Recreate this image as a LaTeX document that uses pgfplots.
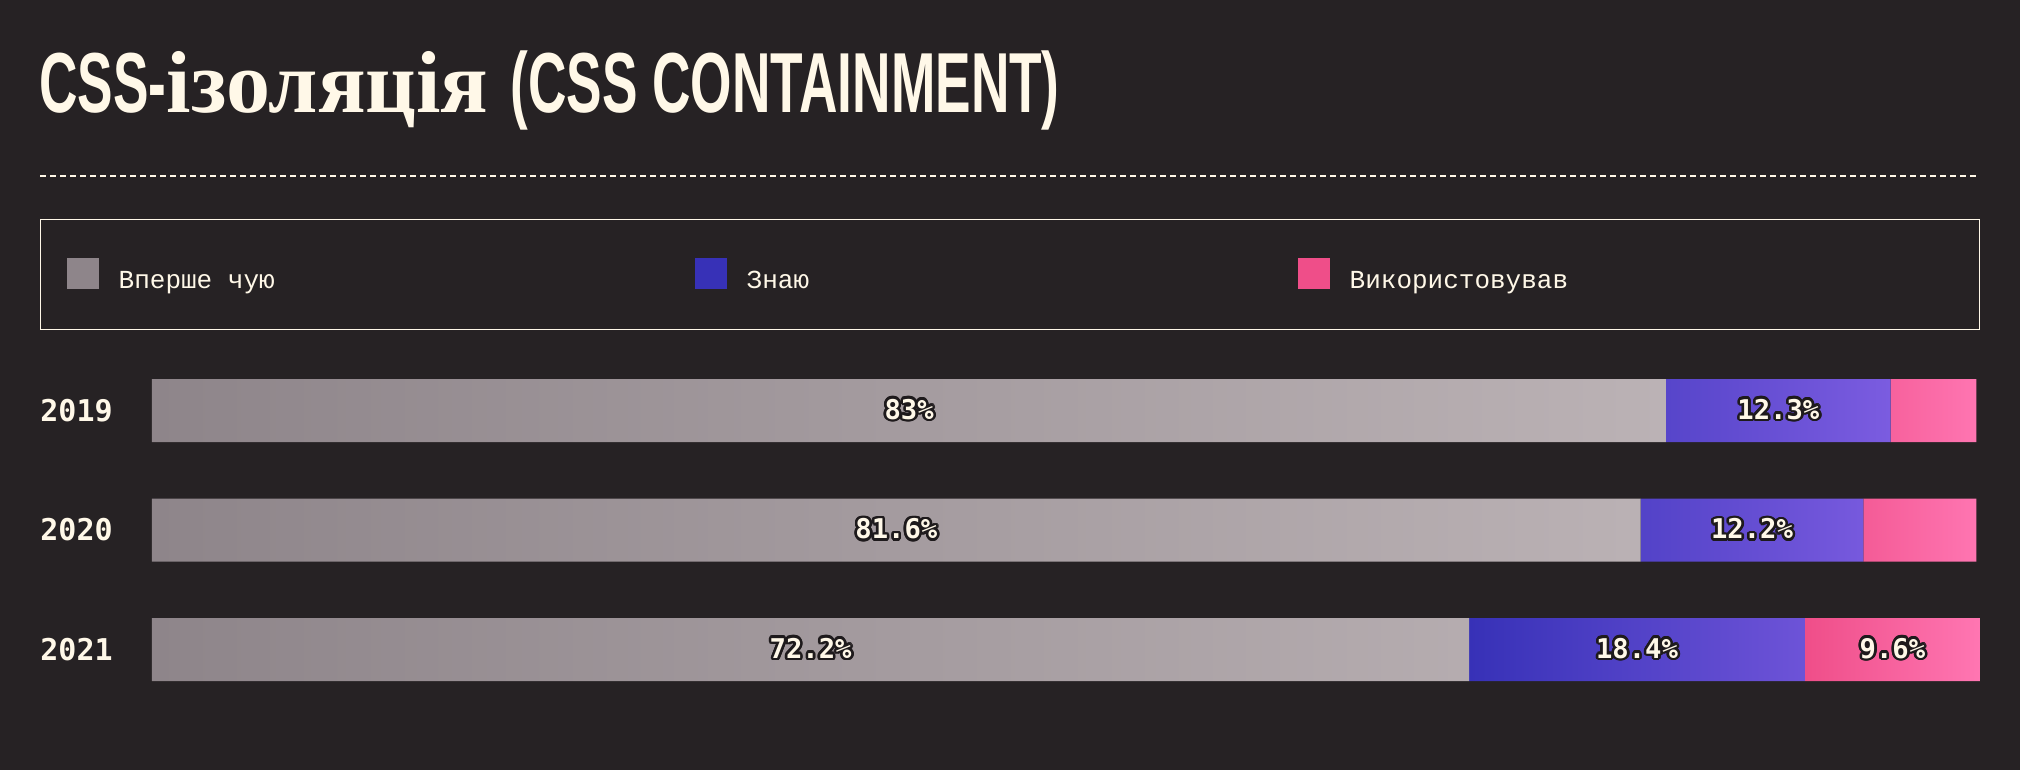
\documentclass[border=0pt]{standalone}
\usepackage{pgfplots}
\pgfplotsset{compat=1.18}
\usepackage{pgfplotstable}
\usepackage{fontspec}
\usepackage{contour}
\setmainfont{DejaVu Sans Mono}
\newfontfamily\legfont{Liberation Mono}
\newfontfamily\boldmono{DejaVu Sans Mono}
\newfontfamily\titlesans[FakeStretch=0.625]{Liberation Sans}
\newfontfamily\titleserif[FakeStretch=1.0]{Liberation Serif}

\definecolor{bg}{HTML}{262224}
\definecolor{cream}{HTML}{FFF8E8}
\definecolor{grayL}{HTML}{8E858A}
\definecolor{grayR}{HTML}{BBB2B5}
\definecolor{blueL}{HTML}{3731B7}
\definecolor{blueR}{HTML}{7B5CE0}
\definecolor{pinkL}{HTML}{EF4E89}
\definecolor{pinkR}{HTML}{FF76B2}
\definecolor{outl}{HTML}{1E1A1C}
\contourlength{1.3pt}

% one table per answer, rows: 2019, 2020, 2021
\pgfplotstableread{
y v lbl
0 83   83\%
1 81.6 81.6\%
2 72.2 72.2\%
}\seen
\pgfplotstableread{
y v lbl
0 12.3 12.3\%
1 12.2 12.2\%
2 18.4 18.4\%
}\know
\pgfplotstableread{
y v lbl
0 4.7 {}
1 6.2 {}
2 9.6 9.6\%
}\used

\begin{document}
\begin{tikzpicture}
\fill[bg] (0,0) rectangle (1010pt,-385pt);
\node[anchor=base west, inner sep=0pt, text=cream] at (19.5pt,-56.5pt)
  {\fontsize{42.6}{46}\selectfont\titlesans\bfseries CSS-\titleserif\fontsize{44}{46}\selectfont ізоляція \titlesans\fontsize{42.6}{46}\selectfont(CSS CONTAINMENT)};
\draw[cream, line width=0.6pt, dash pattern=on 3pt off 2pt] (20pt,-88pt) -- (989.5pt,-88pt);

\begin{axis}[
  at={(76pt,-175.4pt)}, anchor=north west,
  width=914pt, height=179.25pt, scale only axis,
  xbar stacked, bar width=31.5pt,
  xmin=0, xmax=100.2, ymin=-0.5, ymax=2.5, y dir=reverse,
  xtick=\empty, ytick={0,1,2}, yticklabels={2019,2020,2021},
  axis line style={draw=none}, tick style={draw=none},
  yticklabel style={anchor=west, xshift=-56pt, inner sep=0pt, text=cream,
    font=\boldmono\bfseries\fontsize{15}{18}\selectfont},
  point meta=explicit symbolic,
  nodes near coords={\contour{outl}{\pgfplotspointmeta}},
  every node near coord/.append style={anchor=center,
    text=cream, inner sep=0pt, font=\boldmono\bfseries\fontsize{13.6}{16}\selectfont},
  legend columns=3, legend cell align=left,
  legend style={at={(-0.06127,1.3676)}, anchor=north west,
    draw=cream, line width=0.7pt, fill=none, inner xsep=13pt, inner ysep=19pt,
    nodes={inner sep=0pt, text=cream, font=\legfont\fontsize{13}{15}\selectfont},
    /tikz/every odd column/.append style={column sep=10pt}},
]
\addplot[draw=none, left color=grayL, right color=grayR,
  legend image code/.code={\pgfpathrectangle{\pgfpoint{0pt}{-3.7pt}}{\pgfpoint{16pt}{15.5pt}}\pgfsetfillcolor{grayL}\pgfusepath{fill}}]
  table[x=v, y=y, meta=lbl] {\seen};
\addlegendentry{\makebox[288pt][l]{Вперше чую}}
\addplot[draw=none, left color=blueL, right color=blueR,
  legend image code/.code={\pgfpathrectangle{\pgfpoint{0pt}{-3.7pt}}{\pgfpoint{16pt}{15.5pt}}\pgfsetfillcolor{blueL}\pgfusepath{fill}}]
  table[x=v, y=y, meta=lbl] {\know};
\addlegendentry{\makebox[275.5pt][l]{Знаю}}
\addplot[draw=none, left color=pinkL, right color=pinkR,
  legend image code/.code={\pgfpathrectangle{\pgfpoint{0pt}{-3.7pt}}{\pgfpoint{16pt}{15.5pt}}\pgfsetfillcolor{pinkL}\pgfusepath{fill}}]
  table[x=v, y=y, meta=lbl] {\used};
\addlegendentry{\makebox[302pt][l]{Використовував}}
\end{axis}
\end{tikzpicture}
\end{document}
